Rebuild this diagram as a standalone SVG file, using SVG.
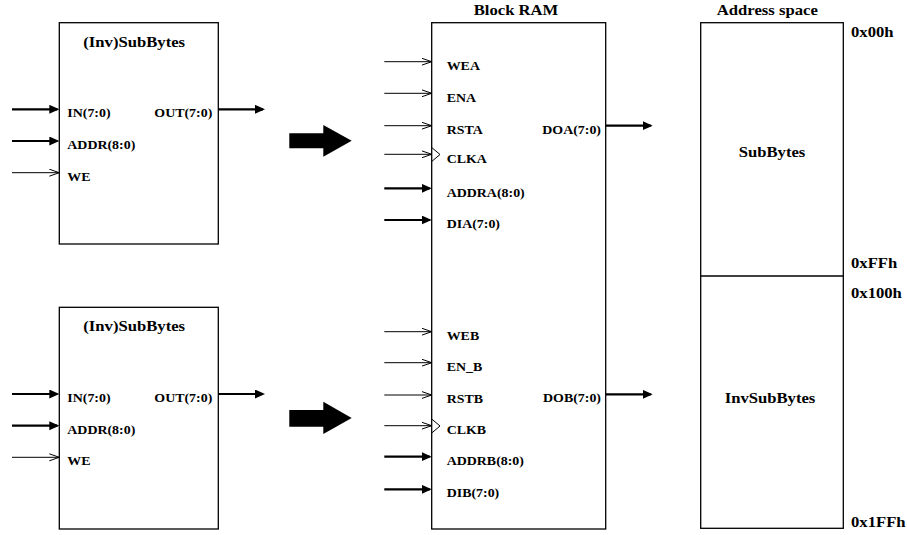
<svg xmlns="http://www.w3.org/2000/svg" width="907" height="535" viewBox="0 0 907 535">
<style>
text{font-family:"Liberation Serif","Times New Roman",serif;font-weight:bold;fill:#000}
.t{font-size:14px}
.l{font-size:11.7px}
.m{text-anchor:middle}
.e{text-anchor:end}
.box{fill:#fff;stroke:#000;stroke-width:1.3}
.bus{stroke:#000;stroke-width:2.2;fill:none;marker-end:url(#fa)}
.sig{stroke:#000;stroke-width:1;fill:none;marker-end:url(#oa)}
.clk{fill:none;stroke:#000;stroke-width:1}
.fat{fill:#000}
</style>
<defs>
<marker id="fa" markerUnits="userSpaceOnUse" markerWidth="11" markerHeight="10" refX="8" refY="4.5" orient="auto" viewBox="0 0 11 10">
<path d="M0,0 L10,4.5 L0,9 z" fill="#000"/>
</marker>
<marker id="oa" markerUnits="userSpaceOnUse" markerWidth="12" markerHeight="10" refX="10" refY="4" orient="auto" viewBox="0 0 12 10">
<path d="M0,0.5 L10,4 L0,7.5" fill="none" stroke="#000" stroke-width="1"/>
</marker>
</defs>

<g id="sbox-top">
<rect class="box" x="59.3" y="22.7" width="159" height="221.3"/>
<text class="t m" transform="matrix(1.19 0 0 1 134.2 46.7)">(Inv)SubBytes</text>
<text class="l" transform="matrix(1.19 0 0 1 67.3 117.3)">IN(7:0)</text>
<text class="l" transform="matrix(1.19 0 0 1 67.3 149)">ADDR(8:0)</text>
<text class="l" transform="matrix(1.19 0 0 1 67.3 180.7)">WE</text>
<text class="l e" transform="matrix(1.19 0 0 1 212.3 117.3)">OUT(7:0)</text>
</g>

<g id="sbox-bottom">
<rect class="box" x="59.3" y="307.3" width="159" height="221.7"/>
<text class="t m" transform="matrix(1.19 0 0 1 134.2 330.7)">(Inv)SubBytes</text>
<text class="l" transform="matrix(1.19 0 0 1 67.3 402)">IN(7:0)</text>
<text class="l" transform="matrix(1.19 0 0 1 67.3 433.7)">ADDR(8:0)</text>
<text class="l" transform="matrix(1.19 0 0 1 67.3 465.3)">WE</text>
<text class="l e" transform="matrix(1.19 0 0 1 212.3 402)">OUT(7:0)</text>
</g>

<g id="bram">
<text class="t m" transform="matrix(1.19 0 0 1 516 14.5)">Block RAM</text>
<rect class="box" x="431.7" y="22.7" width="174" height="506.3"/>
<text class="l" transform="matrix(1.19 0 0 1 446.7 70)">WEA</text>
<text class="l" transform="matrix(1.19 0 0 1 446.7 101.5)">ENA</text>
<text class="l" transform="matrix(1.19 0 0 1 446.7 133.7)">RSTA</text>
<text class="l" transform="matrix(1.19 0 0 1 446.7 162.5)">CLKA</text>
<text class="l" transform="matrix(1.19 0 0 1 446.7 196.5)">ADDRA(8:0)</text>
<text class="l" transform="matrix(1.19 0 0 1 446.7 228)">DIA(7:0)</text>
<text class="l e" transform="matrix(1.19 0 0 1 601 133.7)">DOA(7:0)</text>
<text class="l" transform="matrix(1.19 0 0 1 446.7 339.7)">WEB</text>
<text class="l" transform="matrix(1.19 0 0 1 446.7 370.7)">EN_B</text>
<text class="l" transform="matrix(1.19 0 0 1 446.7 403)">RSTB</text>
<text class="l" transform="matrix(1.19 0 0 1 446.7 433.7)">CLKB</text>
<text class="l" transform="matrix(1.19 0 0 1 446.7 464.7)">ADDRB(8:0)</text>
<text class="l" transform="matrix(1.19 0 0 1 446.7 497.3)">DIB(7:0)</text>
<text class="l e" transform="matrix(1.19 0 0 1 601 402.3)">DOB(7:0)</text>
<polyline class="clk" points="431.7,147.5 440,154.5 431.7,161.5"/>
<polyline class="clk" points="431.7,419 440,426 431.7,433"/>
</g>

<g id="address-space">
<text class="t m" transform="matrix(1.19 0 0 1 767.3 14.5)">Address space</text>
<rect class="box" x="700.7" y="22.7" width="142.6" height="505.6"/>
<line x1="700.7" y1="276" x2="843.3" y2="276" stroke="#000" stroke-width="1.5"/>
<text class="t m" transform="matrix(1.19 0 0 1 772 156.7)">SubBytes</text>
<text class="t m" transform="matrix(1.19 0 0 1 770 402.7)">InvSubBytes</text>
<text class="t" transform="matrix(1.19 0 0 1 851 36.7)">0x00h</text>
<text class="t" transform="matrix(1.19 0 0 1 851 267.7)">0xFFh</text>
<text class="t" transform="matrix(1.19 0 0 1 851 298.3)">0x100h</text>
<text class="t" transform="matrix(1.19 0 0 1 851 526.7)">0x1FFh</text>
</g>

<g id="connectors">
<line class="bus" x1="12" y1="109.3" x2="57.3" y2="109.3"/>
<line class="bus" x1="12" y1="141" x2="57.3" y2="141"/>
<line class="sig" x1="12" y1="172.7" x2="59.3" y2="172.7"/>
<line class="bus" x1="218.3" y1="109.3" x2="263" y2="109.3"/>
<line class="bus" x1="12" y1="394" x2="57.3" y2="394"/>
<line class="bus" x1="12" y1="425.7" x2="57.3" y2="425.7"/>
<line class="sig" x1="12" y1="457.3" x2="59.3" y2="457.3"/>
<line class="bus" x1="218.3" y1="394" x2="263" y2="394"/>

<line class="sig" x1="384.3" y1="61.7" x2="431.7" y2="61.7"/>
<line class="sig" x1="384.3" y1="93.3" x2="431.7" y2="93.3"/>
<line class="sig" x1="384.3" y1="125.7" x2="431.7" y2="125.7"/>
<line class="sig" x1="384.3" y1="154.3" x2="431.7" y2="154.3"/>
<line class="bus" x1="384.3" y1="188.3" x2="429.7" y2="188.3"/>
<line class="bus" x1="384.3" y1="220" x2="429.7" y2="220"/>
<line class="bus" x1="605.7" y1="125.7" x2="650.7" y2="125.7"/>

<line class="sig" x1="384.3" y1="331.7" x2="431.7" y2="331.7"/>
<line class="sig" x1="384.3" y1="362.7" x2="431.7" y2="362.7"/>
<line class="sig" x1="384.3" y1="395" x2="431.7" y2="395"/>
<line class="sig" x1="384.3" y1="425.7" x2="431.7" y2="425.7"/>
<line class="bus" x1="384.3" y1="456.7" x2="429.7" y2="456.7"/>
<line class="bus" x1="384.3" y1="489.3" x2="429.7" y2="489.3"/>
<line class="bus" x1="605.7" y1="394.3" x2="650.7" y2="394.3"/>

<polygon class="fat" points="289.3,133.3 323.3,133.3 323.3,125 351.7,140.8 323.3,156.7 323.3,148.3 289.3,148.3"/>
<polygon class="fat" points="289.3,410 323.3,410 323.3,401.7 351.7,418 323.3,434 323.3,426.7 289.3,426.7"/>
</g>
</svg>
